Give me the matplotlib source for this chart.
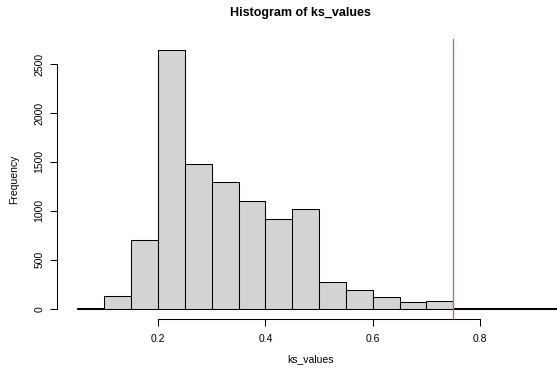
import numpy as np
import matplotlib
matplotlib.use('Agg')
from matplotlib import pyplot as plt

plt.rcParams['font.family'] = ['Liberation Sans', 'DejaVu Sans']

# bin edges 0.05 .. 1.00, width 0.05
bin_edges = [0.05, 0.10, 0.15, 0.20, 0.25, 0.30, 0.35, 0.40, 0.45, 0.50,
             0.55, 0.60, 0.65, 0.70, 0.75, 0.80, 0.85, 0.90, 0.95, 1.00]
counts = [5, 130, 700, 2645, 1476, 1299, 1102, 921, 1023, 268,
          187, 115, 64, 75, 8, 4, 3, 2, 1]
cutoff = 0.75

x_ticks = [0.2, 0.4, 0.6, 0.8]
y_ticks = [0, 500, 1000, 1500, 2000, 2500]

W, H = 557, 372
fig = plt.figure(figsize=(W / 100, H / 100), dpi=100)
ax = fig.add_axes([57 / W, (H - 319) / H, 500 / W, 280 / H])

left = np.array(bin_edges[:-1])
widths = np.diff(bin_edges)
ax.bar(left, counts, width=widths, align='edge', color='#D3D3D3',
       edgecolor='black', linewidth=0.75)
ax.axvline(cutoff, color='#DF536B', linewidth=0.9)

ax.set_xlim(0.012, 0.943)
ax.set_ylim(-106, 2756)

for s in ['top', 'right']:
    ax.spines[s].set_visible(False)
ax.spines['bottom'].set_bounds(x_ticks[0], x_ticks[-1])
ax.spines['left'].set_bounds(y_ticks[0], y_ticks[-1])
ax.spines['bottom'].set_linewidth(0.75)
ax.spines['left'].set_linewidth(0.75)

ax.set_xticks(x_ticks)
ax.set_xticklabels(['0.2', '0.4', '0.6', '0.8'])
ax.set_yticks(y_ticks)
ax.set_yticklabels([str(v) for v in y_ticks], rotation=90, va='center')
ax.tick_params(axis='both', length=5, width=0.75, labelsize=7.5)
ax.tick_params(axis='x', pad=6)
ax.tick_params(axis='y', pad=4)

fig.text(300 / W, 1 - 13 / H, 'Histogram of ks_values', ha='center',
         va='center', fontsize=9, fontweight='bold')
fig.text(311 / W, 1 - 359 / H, 'ks_values', ha='center', va='center',
         fontsize=7.5)
fig.text(14 / W, 1 - 179 / H, 'Frequency', ha='center', va='center',
         fontsize=7.5, rotation=90)

fig.savefig('out.png', dpi=100)
